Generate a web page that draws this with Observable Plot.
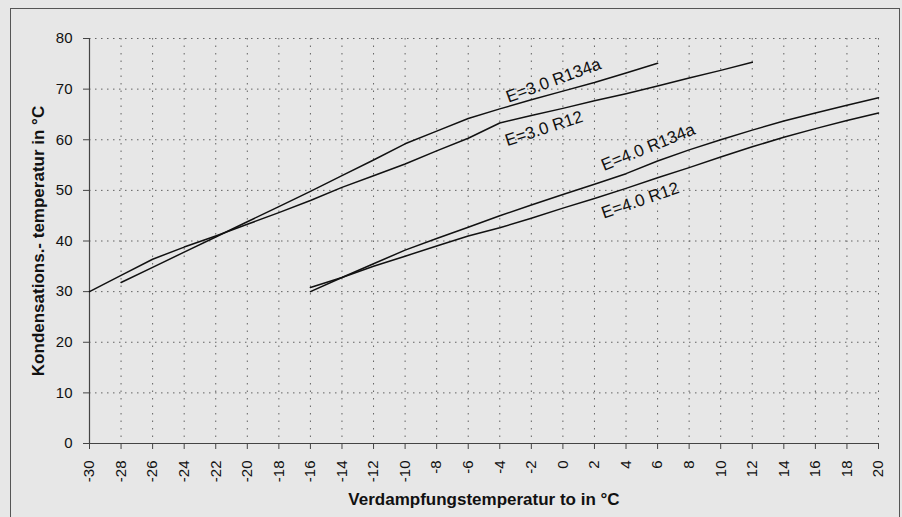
<!DOCTYPE html>
<html>
<head>
<meta charset="utf-8">
<script src="https://cdn.jsdelivr.net/npm/d3@7"></script>
<script src="https://cdn.jsdelivr.net/npm/@observablehq/plot@0.6"></script>
<style>
  html, body { margin: 0; padding: 0; background: #e7e7e7; }
  #wrap { position: relative; width: 902px; height: 517px; overflow: hidden; }
  #frame { position: absolute; left: 10px; top: 8px; width: 888px; height: 520px;
           border: 1.5px solid #555; pointer-events: none; }
  svg { display: block; }
</style>
</head>
<body>
<div id="wrap"><div id="frame"></div></div>
<script>
// X: Verdampfungstemperatur (°C), Y: Kondensationstemperatur (°C)
const xTicks = [-30,-28,-26,-24,-22,-20,-18,-16,-14,-12,-10,-8,-6,-4,-2,0,2,4,6,8,10,12,14,16,18,20];
const yTicks = [0,10,20,30,40,50,60,70,80];

// E=3.0 R134a
const e3R134aT = [-28,-26,-24,-22,-20,-18,-16,-14,-12,-10,-8,-6,-4,-2,0,2,4,6];
const e3R134aK = [31.8,34.8,37.8,40.8,43.8,46.8,49.8,52.9,56.0,59.2,61.7,64.2,66.1,67.9,69.6,71.3,73.2,75.1];
// E=3.0 R12
const e3R12T = [-30,-28,-26,-24,-22,-20,-18,-16,-14,-12,-10,-8,-6,-4,-2,0,2,4,6,8,10,12];
const e3R12K = [30.0,33.2,36.4,38.8,41.0,43.3,45.6,48.0,50.6,52.9,55.2,57.8,60.3,63.3,64.8,66.2,67.7,69.1,70.6,72.2,73.7,75.3];
// E=4.0 R134a
const e4R134aT = [-16,-14,-12,-10,-8,-6,-4,-2,0,2,4,6,8,10,12,14,16,18,20];
const e4R134aK = [30.0,32.8,35.5,38.2,40.5,42.7,45.0,47.1,49.2,51.2,53.3,55.8,58.0,60.0,61.9,63.7,65.3,66.8,68.3];
// E=4.0 R12
const e4R12T = [-16,-14,-12,-10,-8,-6,-4,-2,0,2,4,6,8,10,12,14,16,18,20];
const e4R12K = [30.8,32.8,35.0,37.0,39.0,41.0,42.6,44.5,46.5,48.4,50.4,52.5,54.5,56.6,58.6,60.5,62.2,63.8,65.3];

const seriesNames = ["E=3.0 R134a", "E=3.0 R12", "E=4.0 R134a", "E=4.0 R12"];
const labelT = [-0.6, -1.2, 5.4, 4.9];
const labelK = [71.7, 62.2, 58.5, 48.0];
const labelAngle = [-20, -18, -22, -19];

const xTitle = "Verdampfungstemperatur to in °C";
const yTitle = "Kondensations.- temperatur in °C";

function toRows(ts, ks, name) { return ts.map((t, i) => ({t, k: ks[i], name})); }
const rows = [
  ...toRows(e3R134aT, e3R134aK, seriesNames[0]),
  ...toRows(e3R12T, e3R12K, seriesNames[1]),
  ...toRows(e4R134aT, e4R134aK, seriesNames[2]),
  ...toRows(e4R12T, e4R12K, seriesNames[3])
];
const labels = seriesNames.map((name, i) => ({name, t: labelT[i], k: labelK[i], a: labelAngle[i]}));
const fmt = d => String(d);

const chart = Plot.plot({
  width: 902,
  height: 517,
  marginLeft: 89,
  marginRight: 24,
  marginTop: 38,
  marginBottom: 74,
  x: {domain: [-30, 20]},
  y: {domain: [0, 80]},
  style: {background: "transparent", fontFamily: "'Liberation Sans', Arial, sans-serif", color: "#111", overflow: "visible"},
  marks: [
    Plot.gridX(xTicks, {stroke: "#555", strokeOpacity: 0.9, strokeWidth: 1, strokeDasharray: "1.5,6"}),
    Plot.gridY(yTicks, {stroke: "#555", strokeOpacity: 0.9, strokeWidth: 1, strokeDasharray: "1.5,4.5"}),
    Plot.ruleX([-30], {stroke: "#444", strokeWidth: 1.2}),
    Plot.ruleY([0], {stroke: "#444", strokeWidth: 1.2}),
    Plot.axisY({ticks: yTicks, tickFormat: fmt, tickSize: 6, tickPadding: 11, fontSize: 15, label: null, stroke: "#444"}),
    Plot.axisX({ticks: xTicks, tickFormat: fmt, tickSize: 6, tickPadding: 11, tickRotate: -90, fontSize: 15, label: null, stroke: "#444"}),
    Plot.line(rows, {x: "t", y: "k", z: "name", stroke: "#111", strokeWidth: 1.5}),
    Plot.text(labels, {x: "t", y: "k", text: "name", rotate: "a", fontSize: 17, fill: "#111", textAnchor: "middle", lineAnchor: "middle"}),
    Plot.text([xTitle], {frameAnchor: "bottom", dy: 56, text: d => d, fontSize: 17, fontWeight: "bold", textAnchor: "middle", lineAnchor: "middle", fill: "#111"}),
    Plot.text([yTitle], {frameAnchor: "left", dx: -51, rotate: -90, text: d => d, fontSize: 17, fontWeight: "bold", textAnchor: "middle", lineAnchor: "middle", fill: "#111"})
  ]
});
document.getElementById("wrap").prepend(chart);
</script>
</body>
</html>
